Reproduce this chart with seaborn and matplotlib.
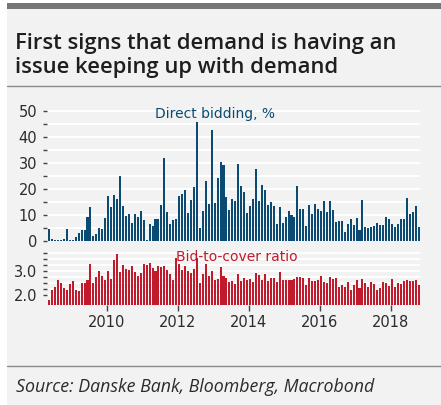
import matplotlib
matplotlib.use("Agg")
import matplotlib.pyplot as plt
import numpy as np
import pandas as pd
import seaborn as sns
from matplotlib.patches import Rectangle
from matplotlib.lines import Line2D
from matplotlib.ticker import MultipleLocator, FixedLocator, FormatStrFormatter

# Monthly auctions, May 2008 - Oct 2018
months = pd.period_range("2008-05", "2018-10", freq="M")

direct_bidding = [
    4.6, 0.8, 0.4, 0.4, 0.4, 0.6, 4.6, 0.3, 0.3, 1.7,
    3.1, 4.2, 4.2, 9.2, 12.9, 2.0, 2.7, 5.0, 4.5, 8.8,
    17.1, 12.9, 17.5, 16.2, 24.9, 13.4, 9.7, 10.5, 6.8, 10.5,
    9.3, 11.4, 7.9, 0.3, 6.4, 5.9, 8.3, 8.3, 13.9, 31.7,
    11.0, 6.4, 8.2, 8.3, 17.4, 18.0, 19.4, 10.9, 15.7, 20.7,
    45.5, 5.1, 11.5, 22.9, 14.1, 42.7, 14.7, 24.2, 30.2, 29.2,
    16.8, 11.8, 16.2, 15.2, 29.7, 21.1, 18.7, 10.6, 13.6, 16.1,
    27.6, 15.2, 21.6, 19.4, 13.8, 15.1, 13.4, 6.5, 13.0, 6.8,
    9.2, 11.5, 10.0, 9.2, 21.0, 12.1, 12.1, 5.8, 13.8, 10.4,
    14.3, 12.1, 11.4, 15.3, 11.0, 15.3, 11.8, 7.2, 7.8, 7.5,
    3.3, 6.5, 8.4, 6.0, 8.8, 4.3, 15.7, 5.4, 5.1, 5.4,
    5.8, 6.8, 6.0, 6.0, 9.1, 8.3, 6.5, 5.4, 6.5, 8.4,
    8.4, 16.4, 10.5, 11.3, 13.4, 5.4,
]

bid_to_cover = [
    1.77, 2.20, 2.31, 2.60, 2.50, 2.29, 2.19, 2.43, 2.57, 2.21,
    2.13, 2.47, 2.47, 2.61, 3.26, 2.49, 2.74, 3.00, 2.79, 2.61,
    2.99, 2.66, 3.43, 3.71, 2.94, 3.23, 3.09, 3.03, 3.20, 2.96,
    2.77, 2.91, 3.30, 3.23, 3.31, 3.13, 2.97, 3.21, 3.16, 3.21,
    3.01, 2.87, 2.63, 3.53, 3.29, 3.03, 3.21, 2.99, 2.89, 3.07,
    3.53, 2.47, 2.86, 3.29, 2.76, 2.97, 2.60, 2.67, 3.17, 2.76,
    2.69, 2.54, 2.57, 2.43, 2.86, 2.57, 2.69, 2.60, 2.67, 2.53,
    2.91, 2.83, 2.61, 2.86, 2.57, 2.71, 2.69, 2.53, 2.96, 2.60,
    2.60, 2.63, 2.61, 2.65, 2.73, 2.74, 2.71, 2.39, 2.70, 2.57,
    2.57, 2.63, 2.76, 2.54, 2.49, 2.74, 2.67, 2.70, 2.31, 2.41,
    2.33, 2.53, 2.20, 2.39, 2.59, 2.29, 2.66, 2.47, 2.31, 2.54,
    2.44, 2.21, 2.27, 2.54, 2.47, 2.36, 2.67, 2.33, 2.50, 2.46,
    2.56, 2.59, 2.57, 2.56, 2.59, 2.39,
]

year_ticks = [2010, 2012, 2014, 2016, 2018]

title_lines = ["First signs that demand is having an",
               "issue keeping up with demand"]
source_text = "Source: Danske Bank, Bloomberg, Macrobond"

BLUE = "#0b4a72"
RED = "#c01b2c"
PANEL = "#f2f2f2"
TEXT = "#2b2b2b"

df = pd.DataFrame({
    "t": [p.year + (p.month - 0.5) / 12 for p in months],
    "direct": direct_bidding,
    "btc": bid_to_cover,
})

sns.set_theme(style="white")
plt.rcParams["font.family"] = ["DejaVu Sans"]

W, H = 441, 405
fig = plt.figure(figsize=(W / 100, H / 100), dpi=100)
fig.patch.set_facecolor(PANEL)

# frame decoration: white margins, dark top rule, grey separators
fig.add_artist(Rectangle((0, 0), 7 / W, 1, transform=fig.transFigure,
                         facecolor="white", edgecolor="none", zorder=-5))
fig.add_artist(Rectangle((0, 1 - 3 / H), 1, 3 / H, transform=fig.transFigure,
                         facecolor="white", edgecolor="none", zorder=-5))
fig.add_artist(Rectangle((7 / W, 1 - 8.5 / H), 1, 5.5 / H, transform=fig.transFigure,
                         facecolor="#767676", edgecolor="none", zorder=-4))
for yy in (86, 366):
    fig.add_artist(Line2D([7 / W, 1], [1 - yy / H, 1 - yy / H], transform=fig.transFigure,
                          color="#8a8a8a", lw=1.0))

title_font = ["Open Sans", "DejaVu Sans"]
fig.text(15 / W, 1 - 48.5 / H, title_lines[0], fontsize=15.8, fontweight="semibold",
         family=title_font, color="#1e1e1e", va="baseline", ha="left")
fig.text(15 / W, 1 - 73 / H, title_lines[1], fontsize=15.8, fontweight="semibold",
         family=title_font, color="#1e1e1e", va="baseline", ha="left")
fig.text(16 / W, 1 - 392.5 / H, source_text, fontsize=12.8, style="italic",
         family=title_font, color=TEXT, va="baseline", ha="left")

left, right = 47 / W, 420 / W
ax1 = fig.add_axes([left, (H - 241) / H, right - left, 135.5 / H])
ax2 = fig.add_axes([left, (H - 305) / H, right - left, 54.8 / H], sharex=ax1)

sns.barplot(data=df, x="t", y="direct", native_scale=True, color=BLUE,
            width=0.7, linewidth=0, saturation=1, errorbar=None, ax=ax1)
sns.barplot(data=df, x="t", y="btc", native_scale=True, color=RED,
            width=0.7, linewidth=0, saturation=1, errorbar=None, ax=ax2)

for ax in (ax1, ax2):
    ax.set_facecolor("none")
    for s in ax.spines.values():
        s.set_visible(False)
    ax.set_xlabel("")
    ax.set_ylabel("")
    ax.set_axisbelow(True)
    ax.yaxis.grid(True, which="both", color="white", lw=1.4)
    ax.xaxis.grid(False)
    ax.tick_params(axis="y", which="both", left=True, length=3, width=1,
                   color="#444444", pad=4, labelsize=10.5, labelcolor=TEXT)

ax1.set_xlim(2008.317, 2018.83)
ax1.set_ylim(0, 52)
ax1.yaxis.set_major_locator(MultipleLocator(10))
ax1.yaxis.set_minor_locator(MultipleLocator(5))
ax1.tick_params(axis="x", which="both", bottom=False, labelbottom=False)

ax2.set_ylim(1.56, 3.86)
ax2.yaxis.set_major_locator(FixedLocator([2.0, 3.0]))
ax2.yaxis.set_major_formatter(FormatStrFormatter("%.1f"))
ax2.yaxis.set_minor_locator(FixedLocator([2.25, 2.5, 2.75, 3.25, 3.5, 3.75]))
ax2.set_xticks(year_ticks)
ax2.set_xticklabels([str(y) for y in year_ticks])
ax2.tick_params(axis="x", which="major", bottom=True, length=4, width=1,
                color="#444444", pad=3.5, labelsize=10.5, labelcolor=TEXT)
ax2.tick_params(axis="x", which="minor", bottom=False)

ax1.text(0.45, 0.937, "Direct bidding, %", transform=ax1.transAxes,
         ha="center", va="center", fontsize=10, color=BLUE)
ax2.text(0.508, 0.876, "Bid-to-cover ratio", transform=ax2.transAxes,
         ha="center", va="center", fontsize=10, color=RED)

fig.savefig("out.png", dpi=100, facecolor=fig.get_facecolor())
